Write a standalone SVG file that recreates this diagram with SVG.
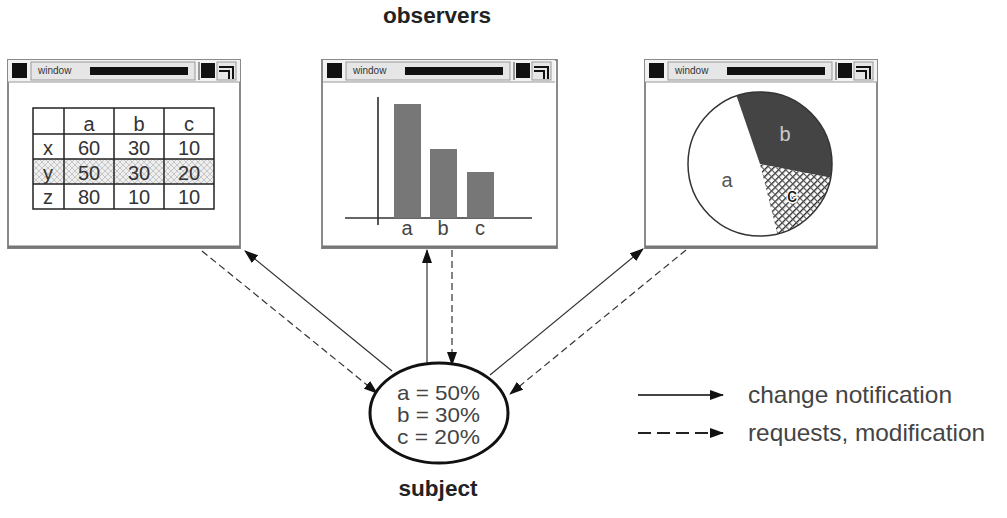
<svg xmlns="http://www.w3.org/2000/svg" xmlns:xlink="http://www.w3.org/1999/xlink" width="1007" height="518" viewBox="0 0 1007 518">
<style>
.frame{fill:#fff;stroke:#8a8a8a;stroke-width:2}
.t{font-family:"Liberation Sans",Arial,sans-serif;fill:#333}
.cell{font-size:20px;text-anchor:middle}
.bold{font-weight:bold;fill:#222}
.conn{stroke:#333;stroke-width:1.2;fill:none}
.dash{stroke-dasharray:7,4}
.grid{stroke:#222;stroke-width:1.5;fill:none}
</style>
<defs>
<marker id="ah" markerWidth="14" markerHeight="10" refX="13" refY="5" orient="auto" markerUnits="userSpaceOnUse">
<path d="M0,0 L14,5 L0,10 z" fill="#111"/>
</marker>
<pattern id="xh" width="6" height="6" patternUnits="userSpaceOnUse">
<rect width="6" height="6" fill="#eee"/>
<path d="M0,0 L6,6 M6,0 L0,6" stroke="#bbb" stroke-width="0.8"/>
</pattern>
<pattern id="dh" width="5" height="5" patternUnits="userSpaceOnUse" patternTransform="rotate(-45)">
<rect width="5" height="5" fill="#fff"/>
<rect width="5" height="1.3" fill="#222"/>
<rect x="0" y="0" width="1.1" height="5" fill="#555"/>
</pattern>
<g id="titlebar">
<rect x="0" y="0" width="232" height="22" fill="#f2f2f2"/>
<rect x="4" y="3" width="15" height="15" fill="#111"/>
<rect x="23" y="2" width="164" height="18" fill="#e6e6e6" stroke="#999" stroke-width="1"/>
<text x="30" y="14" font-family="Liberation Sans, Arial, sans-serif" font-size="10" fill="#333">window</text>
<rect x="82" y="7" width="98" height="8" fill="#111"/>
<rect x="190" y="2" width="2" height="18" fill="#999"/>
<rect x="193" y="3" width="14" height="15" fill="#111"/>
<rect x="209" y="2" width="19" height="18" fill="#e6e6e6" stroke="#999" stroke-width="1"/>
<path d="M211,7 H225 V19 M211,11 H221 V19" stroke="#111" stroke-width="2" fill="none"/>
<line x1="0" y1="22" x2="232" y2="22" stroke="#999" stroke-width="1"/>
</g>
</defs>

<rect width="1007" height="518" fill="#fff"/>

<text class="t bold" x="437" y="23" font-size="22" text-anchor="middle" textLength="108" lengthAdjust="spacingAndGlyphs">observers</text>

<g id="window-table">
<rect class="frame" x="8" y="60" width="232" height="188"/>
<line x1="8" y1="247" x2="240" y2="247" stroke="#777" stroke-width="3"/>
<use xlink:href="#titlebar" x="8" y="60"/>
<rect x="33" y="159" width="181" height="25" fill="url(#xh)"/>
<rect class="grid" x="33" y="108" width="181" height="101"/>
<path class="grid" d="M33,134 H214 M33,159 H214 M33,184 H214 M64,108 V209 M114,108 V209 M164,108 V209"/>
<g class="t cell">
<text x="89" y="131">a</text><text x="139" y="131">b</text><text x="189" y="131">c</text>
<text x="48" y="155">x</text><text x="89" y="155">60</text><text x="139" y="155">30</text><text x="189" y="155">10</text>
<text x="48" y="180">y</text><text x="89" y="180">50</text><text x="139" y="180">30</text><text x="189" y="180">20</text>
<text x="48" y="204">z</text><text x="89" y="204">80</text><text x="139" y="204">10</text><text x="189" y="204">10</text>
</g>
</g>

<g id="window-bar">
<rect class="frame" x="322" y="60" width="235" height="188"/>
<line x1="322" y1="247" x2="557" y2="247" stroke="#777" stroke-width="3"/>
<use xlink:href="#titlebar" x="323" y="60"/>
<line x1="378" y1="97" x2="378" y2="225" stroke="#555" stroke-width="2"/>
<line x1="345" y1="218" x2="532" y2="218" stroke="#333" stroke-width="1.5"/>
<rect x="394" y="104" width="27" height="114" fill="#777"/>
<rect x="430" y="149" width="27" height="69" fill="#777"/>
<rect x="467" y="172" width="27" height="46" fill="#777"/>
<g class="t cell">
<text x="407" y="235" style="fill:#444">a</text><text x="443" y="235" style="fill:#444">b</text><text x="480" y="235" style="fill:#444">c</text>
</g>
</g>

<g id="window-pie">
<rect class="frame" x="645" y="60" width="232" height="188"/>
<line x1="645" y1="247" x2="877" y2="247" stroke="#777" stroke-width="3"/>
<use xlink:href="#titlebar" x="645" y="60"/>
<circle cx="760" cy="164" r="72" fill="#fff"/>
<path d="M760,164 L736.6,95.9 A72,72 0 0 1 830.7,177.7 Z" fill="#444"/>
<path d="M760,164 L830.7,177.7 A72,72 0 0 1 777.4,233.9 Z" fill="url(#dh)"/>
<circle cx="760" cy="164" r="72" fill="none" stroke="#333" stroke-width="1.5"/>
<text class="t cell" x="785" y="141" style="fill:#ccc">b</text>
<text class="t cell" x="727" y="187" style="fill:#555">a</text>
<text class="t cell" x="792" y="202" style="fill:#111" stroke="#fff" stroke-width="3" paint-order="stroke">c</text>
</g>

<g id="connectors">
<line class="conn" x1="392" y1="371" x2="245" y2="251" marker-end="url(#ah)"/>
<line class="conn dash" x1="202" y1="251" x2="377" y2="393" marker-end="url(#ah)"/>
<line class="conn" x1="427" y1="364" x2="427" y2="250" marker-end="url(#ah)"/>
<line class="conn dash" x1="452" y1="250" x2="452" y2="365" marker-end="url(#ah)"/>
<line class="conn" x1="490" y1="375" x2="643" y2="249" marker-end="url(#ah)"/>
<line class="conn dash" x1="686" y1="250" x2="510" y2="394" marker-end="url(#ah)"/>
</g>

<g id="subject">
<ellipse cx="439" cy="413" rx="69" ry="50" fill="#fff" stroke="#111" stroke-width="3"/>
<g class="t" font-size="21">
<text x="397" y="400" style="fill:#444" textLength="83" lengthAdjust="spacingAndGlyphs">a = 50%</text>
<text x="397" y="422" style="fill:#444" textLength="83" lengthAdjust="spacingAndGlyphs">b = 30%</text>
<text x="397" y="444" style="fill:#444" textLength="83" lengthAdjust="spacingAndGlyphs">c = 20%</text>
</g>
<text class="t bold" x="438" y="496" font-size="22" text-anchor="middle" textLength="79" lengthAdjust="spacingAndGlyphs">subject</text>
</g>

<g id="legend">
<line x1="638" y1="395" x2="723" y2="395" stroke="#444" stroke-width="2.2" marker-end="url(#ah)"/>
<line x1="638" y1="433" x2="723" y2="433" stroke="#222" stroke-width="2" stroke-dasharray="13,6" marker-end="url(#ah)"/>
<text class="t" x="748" y="403" font-size="24" style="fill:#444" textLength="204" lengthAdjust="spacingAndGlyphs">change notification</text>
<text class="t" x="748" y="441" font-size="24" style="fill:#444" textLength="237" lengthAdjust="spacingAndGlyphs">requests, modification</text>
</g>
</svg>
